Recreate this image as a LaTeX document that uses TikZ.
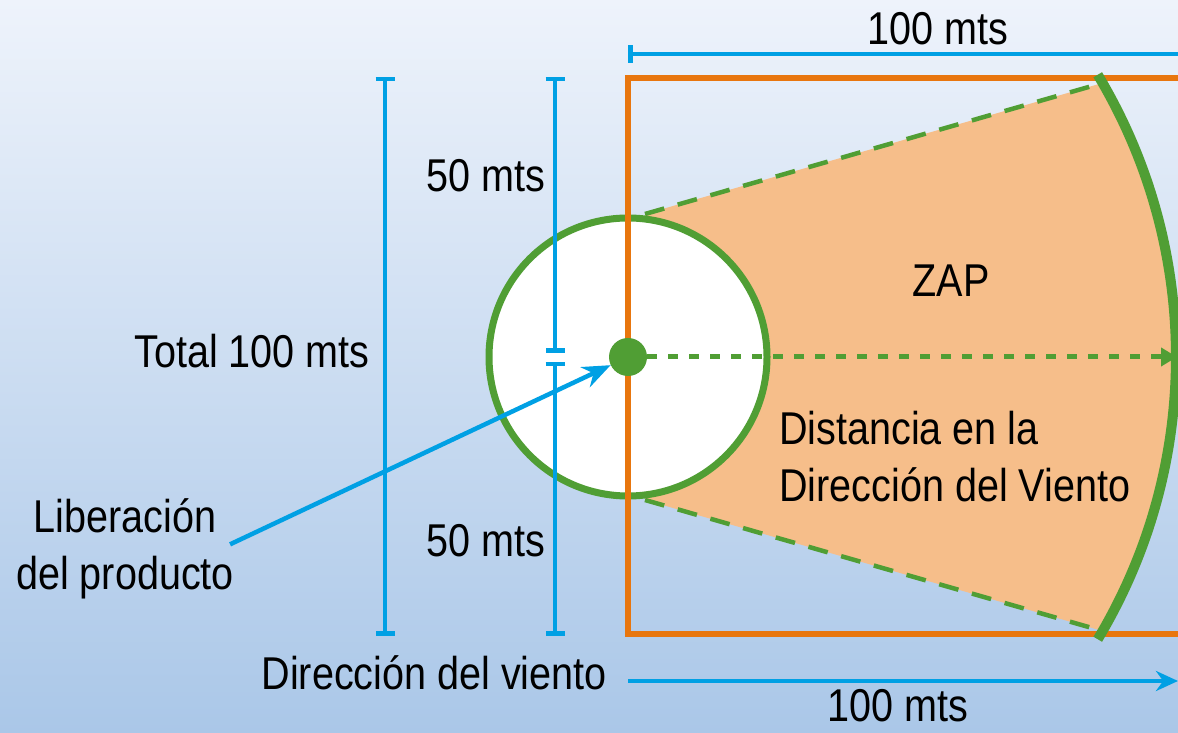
\documentclass[tikz,border=0pt]{standalone}
\usepackage{fontspec}
\setmainfont{Liberation Sans}[FakeStretch=0.86]
\usepackage{tikz}
\usetikzlibrary{arrows.meta}
\usetikzlibrary{positioning,calc}
\definecolor{dimblue}{RGB}{0,160,228}
\definecolor{zoneorange}{RGB}{232,118,14}
\definecolor{windgreen}{RGB}{80,158,52}
\definecolor{zapfill}{RGB}{246,190,138}
\definecolor{bgtop}{RGB}{238,243,251}
\definecolor{bgbot}{RGB}{170,199,232}
\tikzset{
    dimline/.style={
        draw=dimblue,
        line width=4.5pt,
        {Bar[width=19pt]}-{Bar[width=19pt]}
    },
    windline/.style={
        draw=windgreen,
        line width=4.5pt,
        dash pattern=on 20pt off 14pt
    },
    label/.style={
        inner sep=0pt,
        font=\fontsize{46}{57}\selectfont
    }
}

\begin{document}
\begin{tikzpicture}[x=1pt, y=1pt]
    % Background
    \useasboundingbox (0,0) rectangle (1178,733);
    \shade[top color=bgtop, bottom color=bgbot] (0,0) rectangle (1178,733);
    \clip (0,0) rectangle (1178,733);
    \coordinate (C) at (628,376);

    % ZAP zone
    \fill[zapfill] (645,519) -- ($(C)+(30:548)$)
        arc[start angle=30, end angle=-30, radius=548] -- (645,233) -- cycle;
    \node[circle, draw=windgreen, line width=7pt, fill=white,
        minimum size=278pt] (rel) at (C) {};
    \draw[zoneorange, line width=5.5pt] (628,99) rectangle (1200,655);
    \draw[windline] (645,519) -- ($(C)+(30:548)$);
    \draw[windline] (645,233) -- ($(C)+(-30:548)$);
    \draw[windgreen, line width=10pt]
        ($(C)+(31:548)$) arc[start angle=31, end angle=-31, radius=548];

    % Source and wind axis
    \node[circle, fill=windgreen, minimum size=38pt, inner sep=0pt] (src) at (C) {};
    \coordinate (far) at (1177,376);
    \draw[windgreen, line width=5pt, dash pattern=on 10pt off 11pt,
        -{Triangle[length=16pt, width=18pt]}] (src) -- (far);

    % Dimensions
    \draw[dimline] (385,656) -- (385,97);
    \draw[dimline] (555,656) -- (555,380);
    \draw[dimline] (555,371) -- (555,97);
    \draw[dimblue, line width=4.5pt, {Bar[width=18pt]}-] (628,679) -- (1200,679);
    \draw[dimblue, line width=4.5pt, -{Stealth[length=22pt, width=20pt]}] (628,52) -- (1178,52);

    % Labels
    \node[label, anchor=base] (top) at (938,688) {100 mts};
    \node[label, anchor=base] (bot) at (898,11) {100 mts};
    \node[label, anchor=base] (up) at (486,541) {50 mts};
    \node[label, anchor=base] (low) at (486,176) {50 mts};
    \node[label, anchor=base] (tot) at (252,365) {Total 100 mts};
    \node[label, anchor=base] (zap) at (951,436) {ZAP};
    \node[label, anchor=base west, align=left] (dist) at (779,231)
        {Distancia en la\\Dirección del Viento};
    \node[label, anchor=base, align=center] (lib) at (125,143)
        {Liberación\\del producto};
    \node[label, anchor=base east] (dir) at (607,43) {Dirección del viento};

    % Release arrow
    \draw[dimblue, line width=4.5pt, -{Stealth[length=28pt, width=22pt]}]
        ([xshift=-4pt, yshift=5pt]lib.east) -- (src);
\end{tikzpicture}
\end{document}
